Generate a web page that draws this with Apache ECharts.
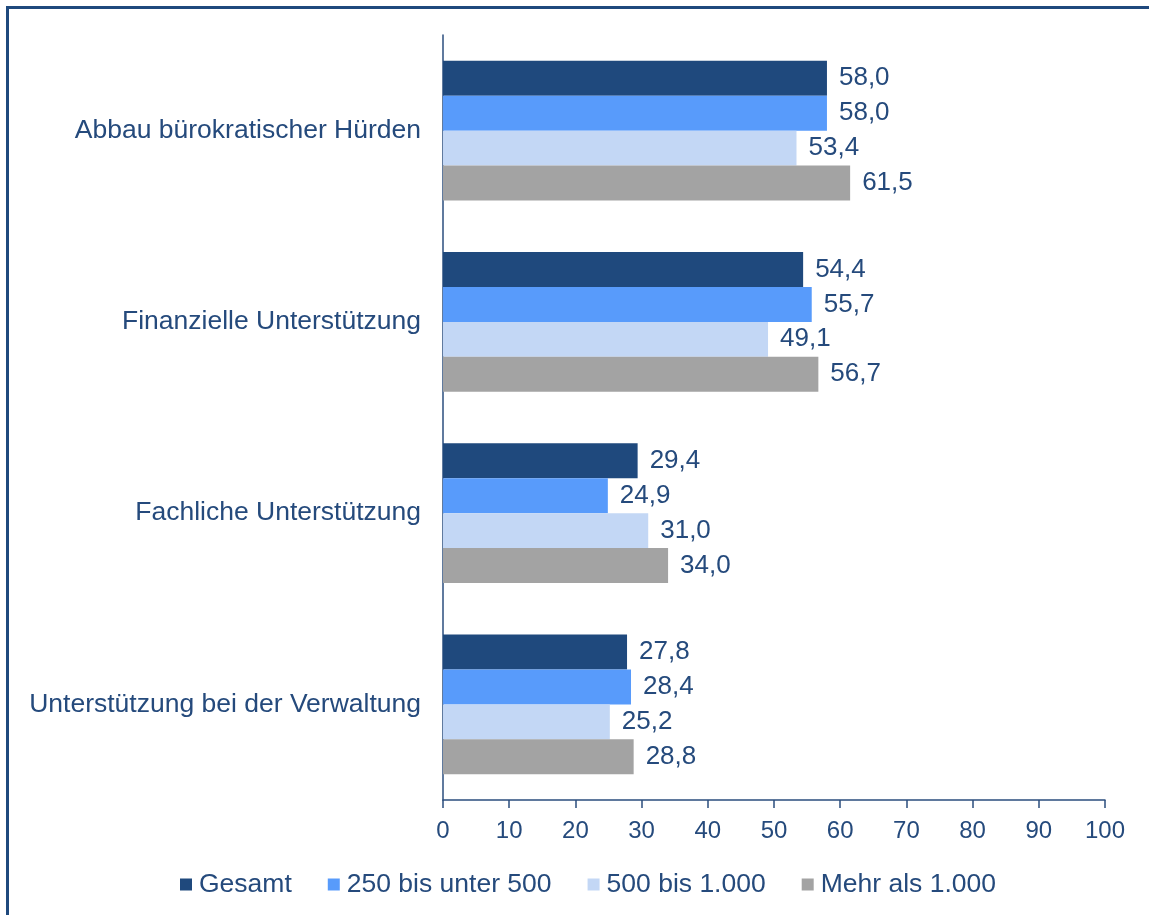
<!DOCTYPE html>
<html>
<head>
<meta charset="utf-8">
<script src="https://cdn.jsdelivr.net/npm/echarts@6/dist/echarts.min.js"></script>
<style>
  html, body { margin: 0; padding: 0; background: #fff; }
  #chart { width: 1149px; height: 915px; }
</style>
</head>
<body>
<div id="chart"></div>
<script>
// Categories (top to bottom)
const categories = [
  'Abbau bürokratischer Hürden',
  'Finanzielle Unterstützung',
  'Fachliche Unterstützung',
  'Unterstützung bei der Verwaltung'
];

// Series values, one per category
const gesamt      = [58.0, 54.4, 29.4, 27.8];
const bis500      = [58.0, 55.7, 24.9, 28.4];
const bis1000     = [53.4, 49.1, 31.0, 25.2];
const mehr1000    = [61.5, 56.7, 34.0, 28.8];

const seriesNames = ['Gesamt', '250 bis unter 500', '500 bis 1.000', 'Mehr als 1.000'];
const seriesData  = [gesamt, bis500, bis1000, mehr1000];
const seriesColors = ['#1F497D', '#589BFB', '#C3D7F5', '#A3A3A3'];

const textColor = '#254A7C';
const fontFamily = 'Liberation Sans, Arial, sans-serif';

const chart = echarts.init(document.getElementById('chart'), null, { renderer: 'canvas' });

const option = {
  animation: false,
  backgroundColor: '#ffffff',
  textStyle: { fontFamily: fontFamily },
  graphic: [{
    type: 'rect',
    shape: { x: 7.5, y: 7.5, width: 1300, height: 1100 },
    style: { fill: 'none', stroke: '#1F497D', lineWidth: 3 },
    silent: true
  }],
  grid: { left: 443, right: 44, top: 35, bottom: 115, containLabel: false },
  legend: {
    top: 866,
    left: 175,
    itemWidth: 12,
    itemHeight: 12,
    itemGap: 36,
    icon: 'rect',
    textStyle: { color: textColor, fontSize: 26.5, fontFamily: fontFamily, padding: [0, 0, 0, 2] },
    data: seriesNames
  },
  xAxis: {
    type: 'value',
    min: 0,
    max: 100,
    interval: 10,
    axisLine: { show: true, lineStyle: { color: '#2B4E7E', width: 1.5 } },
    axisTick: { show: true, length: 8, lineStyle: { color: '#2B4E7E', width: 1.5 } },
    splitLine: { show: false },
    axisLabel: { color: textColor, fontSize: 24, margin: 19, fontFamily: fontFamily }
  },
  yAxis: {
    type: 'category',
    inverse: true,
    data: categories,
    axisLine: { show: true, lineStyle: { color: '#2B4E7E', width: 1.5 } },
    axisTick: { show: false },
    axisLabel: { color: textColor, fontSize: 26.5, margin: 22, fontFamily: fontFamily }
  },
  series: seriesNames.map((name, i) => ({
    name: name,
    type: 'bar',
    data: seriesData[i],
    barGap: '0%',
    barCategoryGap: '27%',
    itemStyle: { color: seriesColors[i] },
    label: {
      show: true,
      position: 'right',
      distance: 12,
      color: textColor,
      fontSize: 26,
      fontFamily: fontFamily,
      formatter: p => p.value.toFixed(1).replace('.', ',')
    }
  }))
};

chart.setOption(option);
</script>
</body>
</html>
